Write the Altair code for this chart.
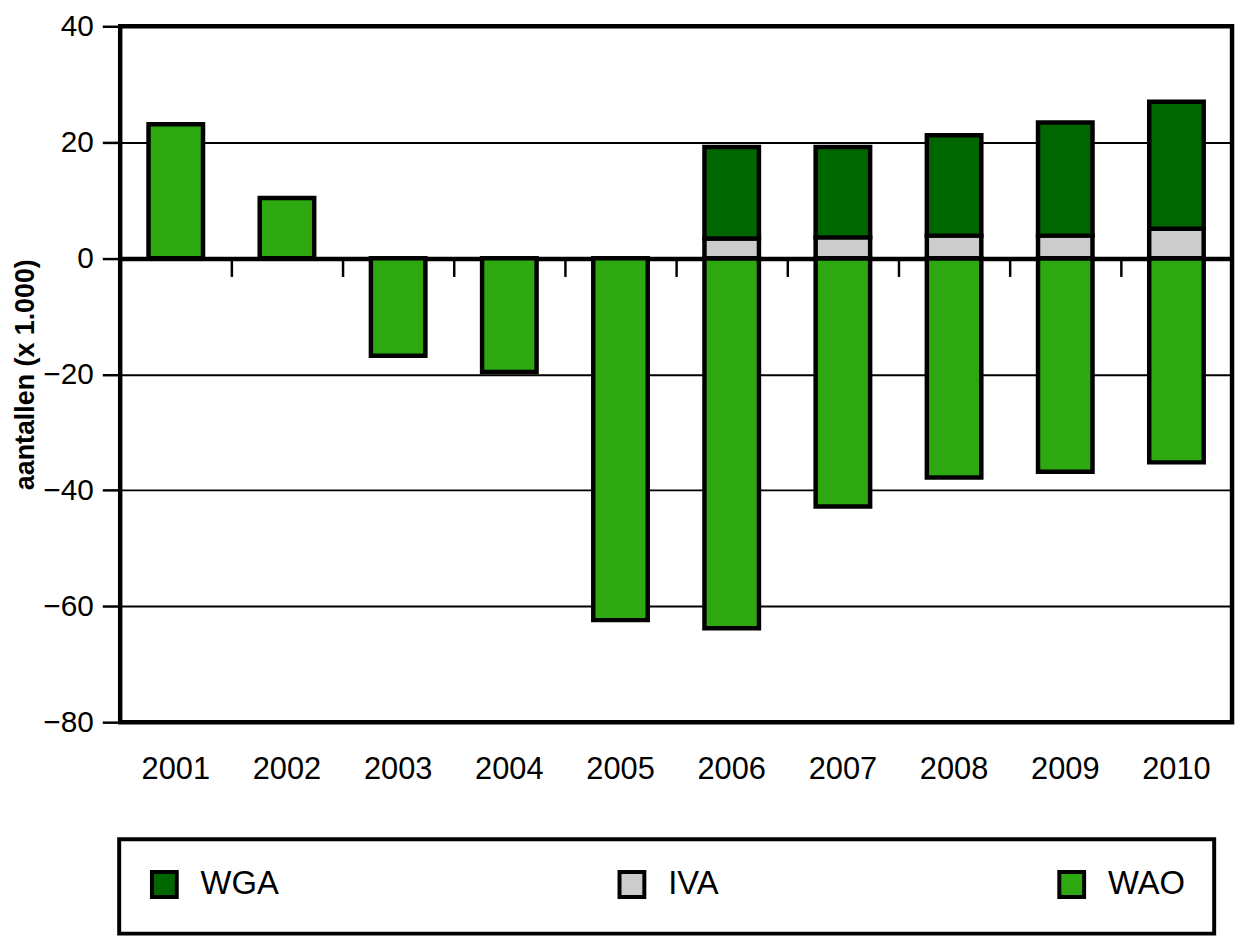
import altair as alt
import pandas as pd

years = ["2001", "2002", "2003", "2004", "2005", "2006", "2007", "2008", "2009", "2010"]
wao = [23.1, 10.4, -16.8, -19.6, -62.4, -63.8, -42.8, -37.8, -36.8, -35.2]
iva = [None, None, None, None, None, 3.4, 3.6, 3.9, 3.9, 5.1]
wga = [None, None, None, None, None, 15.8, 15.6, 17.3, 19.5, 21.9]

categories = ["WGA", "IVA", "WAO"]
colors = ["#006600", "#cccccc", "#2ea811"]
stack_order = {"WAO": 0, "IVA": 1, "WGA": 2}
y_ticks = [-80, -60, -40, -20, 0, 20, 40]

rows = []
for name, series in (("WAO", wao), ("IVA", iva), ("WGA", wga)):
    for yr, v in zip(years, series):
        if v is not None:
            rows.append({"jaar": yr, "reeks": name, "waarde": v, "ord": stack_order[name]})
df = pd.DataFrame(rows)
years_df = pd.DataFrame({"jaar": years})

FONT = "Liberation Sans"
TOP = 15
W, H = 1120, 701
zero_offset = -round(H * 80 / 120)

x_scale = alt.Scale(domain=years, paddingInner=0, paddingOuter=0)
y_scale = alt.Scale(domain=[-80, 40], nice=False, zero=False)

bars = alt.Chart(df).mark_bar(
    stroke="black", strokeWidth=4.5, width=alt.RelativeBandSize(0.49)
).encode(
    x=alt.X("jaar:N", scale=x_scale, sort=years,
            axis=alt.Axis(orient="bottom", title=None, labelAngle=0, ticks=False,
                          domain=False, grid=False, labelFont=FONT, labelFontSize=31,
                          labelColor="black", labelPadding=33)),
    y=alt.Y("waarde:Q", stack="zero", scale=y_scale,
            axis=alt.Axis(values=y_ticks, title="aantallen (x 1.000)", domain=False,
                          grid=True, gridColor="black", gridWidth=2, gridOpacity=1,
                          tickColor="black", tickSize=18, tickWidth=2.5,
                          labelFont=FONT, labelFontSize=30, labelColor="black",
                          labelPadding=9, titleFont=FONT, titleFontSize=27,
                          titleFontWeight="bold", titleColor="black", titlePadding=3)),
    color=alt.Color("reeks:N", scale=alt.Scale(domain=categories, range=colors),
                    legend=alt.Legend(title=None, orient="none", legendX=-1,
                                      legendY=838 - 8 - TOP + 4,
                                      direction="horizontal", columns=3, columnPadding=335,
                                      symbolType="square", symbolSize=625,
                                      symbolStrokeColor="black", symbolStrokeWidth=4,
                                      symbolOpacity=1,
                                      labelFont=FONT, labelFontSize=33, labelColor="black",
                                      labelOffset=20, padding=29, strokeColor="black")),
    order=alt.Order("ord:Q"),
)

zero_axis = alt.Chart(years_df).mark_point(opacity=0).encode(
    x=alt.X("jaar:N", scale=x_scale, sort=years,
            axis=alt.Axis(orient="bottom", offset=zero_offset, title=None, labels=False,
                          ticks=True, tickBand="extent", tickSize=18, tickWidth=2.5,
                          tickColor="black", domain=True, domainColor="black",
                          domainWidth=4.5, grid=False)),
    y=alt.datum(0),
)

chart = alt.layer(bars, zero_axis).resolve_axis(x="independent").properties(
    width=W, height=H,
    autosize=alt.AutoSizeParams(type="none"),
    padding={"left": 113, "top": TOP, "right": 6, "bottom": 214},
).configure(background="white").configure_view(
    stroke="black", strokeWidth=4.5
).configure_legend(strokeWidth=4)

chart.save("out.html", embed_options={"renderer": "svg", "actions": False})
